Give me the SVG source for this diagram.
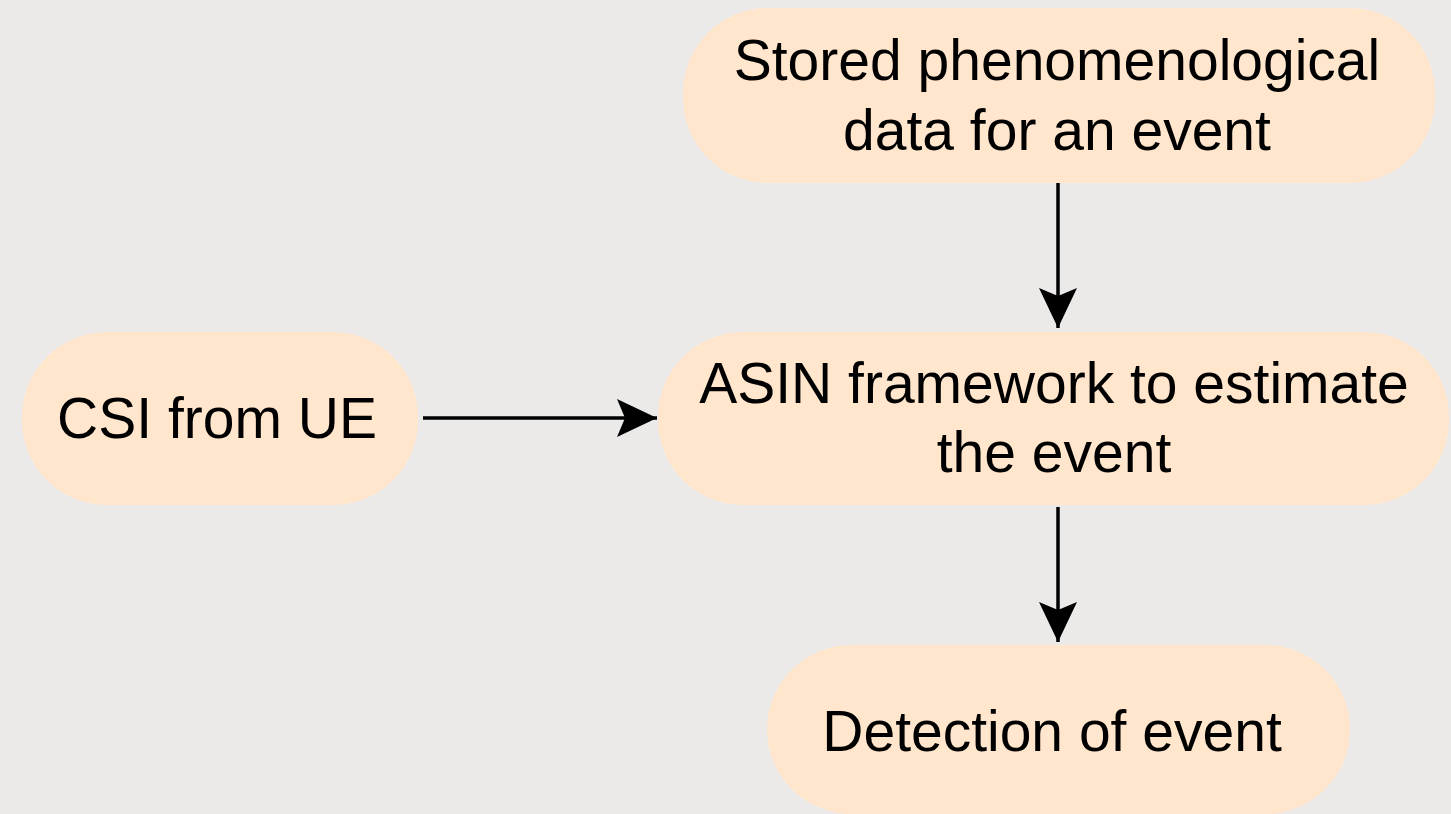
<svg xmlns="http://www.w3.org/2000/svg" width="1451" height="814" viewBox="0 0 1451 814">
<style>
.node{fill:#FFE6CC;stroke:none}
.lbl{font-family:"Liberation Sans",Arial,sans-serif;font-size:57px;fill:#000;text-anchor:middle}
.edge{stroke:#000;stroke-width:3.5;fill:none}
</style>
<defs>
<marker id="arr" markerUnits="userSpaceOnUse" markerWidth="44" markerHeight="40" refX="40" refY="19" orient="auto">
<path d="M0,0 L40,19 L0,38 L8,19 Z" fill="#000"/>
</marker>
</defs>
<rect width="1451" height="814" fill="#ECE9E9"/>
<g id="n-stored">
<rect class="node" x="683" y="8" width="752" height="175" rx="85"/>
<text class="lbl" x="1057" y="80">Stored phenomenological</text>
<text class="lbl" x="1057" y="150">data for an event</text>
</g>
<g id="n-csi">
<rect class="node" x="22" y="332" width="396" height="173" rx="85"/>
<text class="lbl" x="217" y="438">CSI from UE</text>
</g>
<g id="n-asin">
<rect class="node" x="658" y="332" width="791" height="173" rx="85"/>
<text class="lbl" x="1054" y="403">ASIN framework to estimate</text>
<text class="lbl" x="1054" y="472">the event</text>
</g>
<g id="n-detect">
<rect class="node" x="767" y="645" width="583" height="169" rx="85"/>
<text class="lbl" x="1052" y="751">Detection of event</text>
</g>
<g id="connectors">
<line class="edge" x1="1058" y1="183" x2="1058" y2="328" marker-end="url(#arr)"/>
<line class="edge" x1="423" y1="418" x2="657" y2="418" marker-end="url(#arr)"/>
<line class="edge" x1="1058" y1="507" x2="1058" y2="642" marker-end="url(#arr)"/>
</g>
</svg>
